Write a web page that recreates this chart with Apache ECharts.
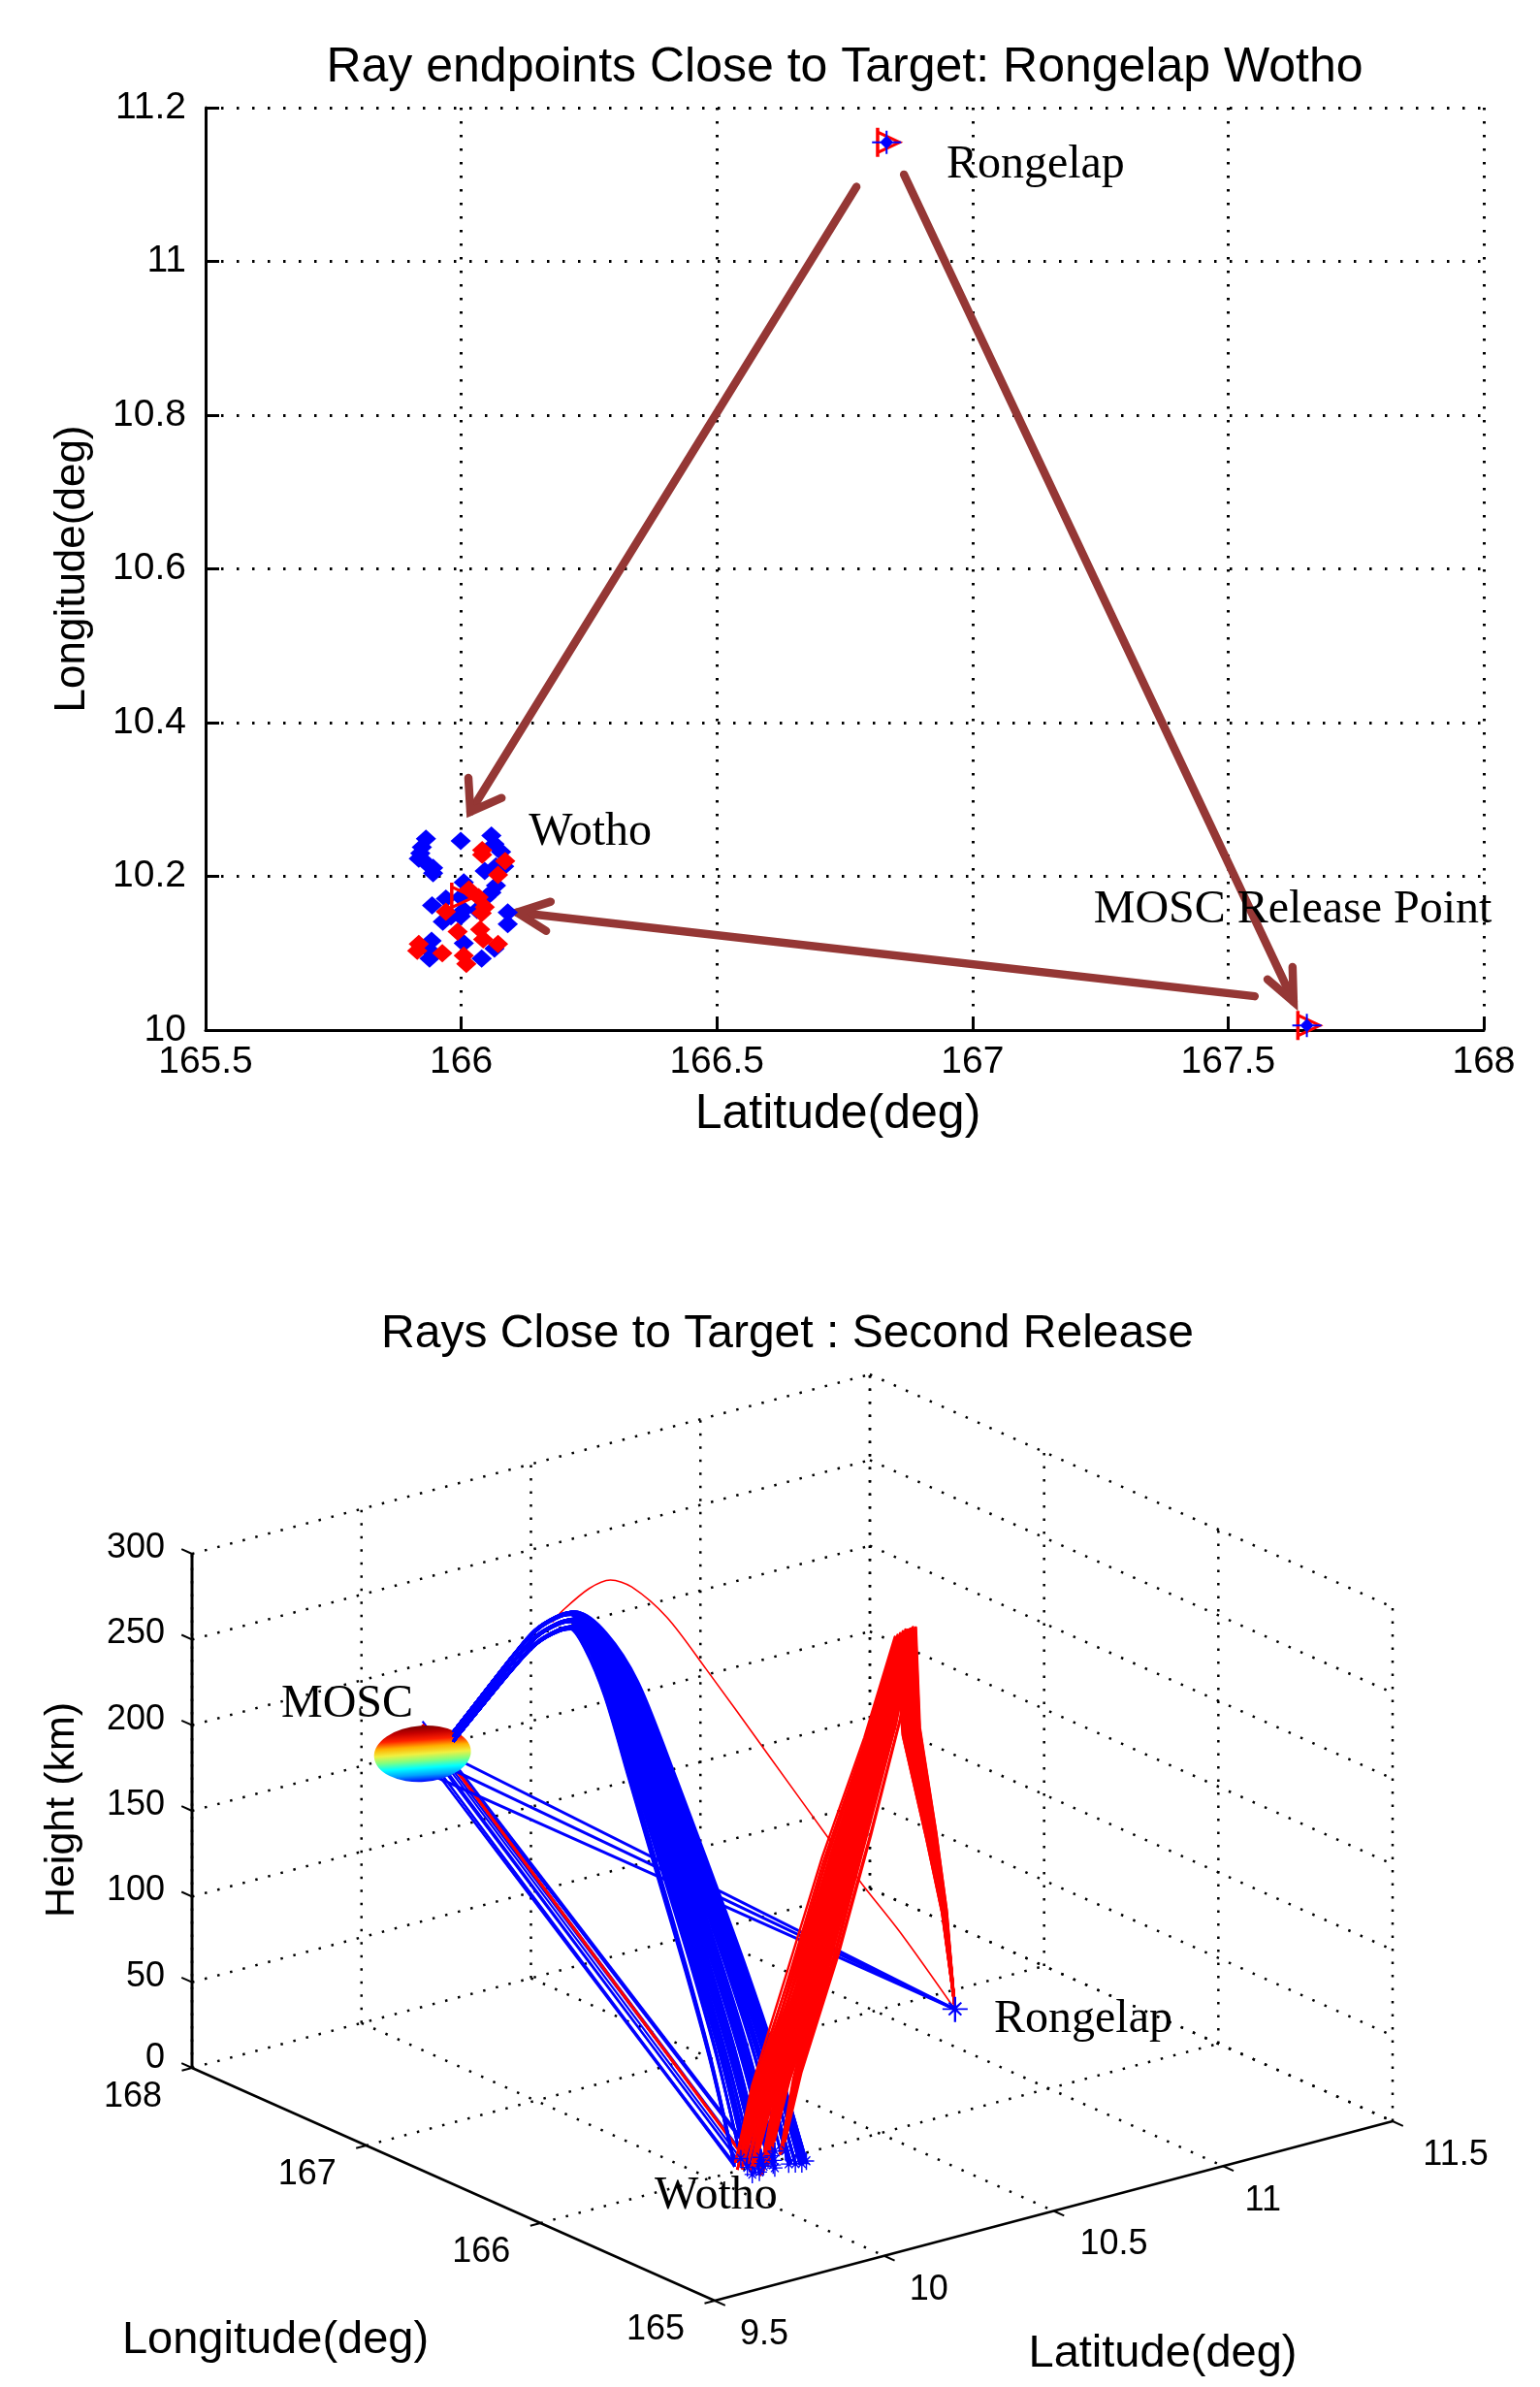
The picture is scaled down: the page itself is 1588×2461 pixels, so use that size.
<!DOCTYPE html>
<html><head><meta charset="utf-8">
<style>html,body{margin:0;padding:0;background:#fff}#c{width:1588px;height:2461px}</style>
<script src="https://cdn.jsdelivr.net/npm/echarts@6/dist/echarts.min.js"></script>
</head><body><div id="c"></div>
<script>
// ---------- top panel values (x deg, y deg) ----------
const blueEndpoints = [[165.931,10.249],[165.923,10.238],[165.920,10.230],[165.917,10.223],[165.932,10.217],[165.945,10.211],[165.945,10.204],[165.999,10.246],[166.059,10.253],[166.065,10.242],[166.078,10.232],[166.068,10.213],[166.046,10.207],[166.084,10.213],[166.005,10.192],[165.999,10.173],[165.970,10.171],[166.068,10.188],[166.059,10.179],[166.049,10.173],[165.943,10.162],[166.031,10.156],[166.005,10.156],[166.091,10.153],[166.091,10.138],[165.999,10.148],[165.980,10.148],[165.964,10.141],[165.942,10.116],[165.939,10.103],[166.005,10.113],[166.065,10.106],[165.938,10.093],[166.040,10.093]];
const redEndpoints = [[166.041,10.234],[166.041,10.228],[166.086,10.220],[166.072,10.202],[166.015,10.183],[166.034,10.173],[166.046,10.160],[165.970,10.154],[166.040,10.152],[165.993,10.128],[166.037,10.131],[166.043,10.118],[166.072,10.112],[165.917,10.112],[165.914,10.103],[165.963,10.100],[166.005,10.097],[166.010,10.086]];
const targets = [[166.832,11.155],[167.654,10.006],[165.999,10.173]];
const arrows = [
  {shaft:[[166.773,11.097],[166.018,10.284]], head:[[166.079,10.302],[166.018,10.284],[166.014,10.328]]},
  {shaft:[[166.866,11.113],[167.628,10.037]], head:[[167.626,10.082],[167.628,10.037],[167.577,10.066]]},
  {shaft:[[167.552,10.044],[166.109,10.153]], head:[[166.175,10.167],[166.109,10.153],[166.166,10.129]]}
];
const topLabels = [['Rongelap',166.949,11.125],['Wotho',166.132,10.257],['MOSC Release Point',167.237,10.156]];

// ---------- bottom panel values ----------
const lonTicks = [165,166,167,168];
const latTicks = [9.5,10,10.5,11,11.5];
const heightTicks = [0,50,100,150,200,250,300];
const moscPoint = [167.65,10,173];
const rongelapPoint = [166.84,11.155];
const wothoCentre = [166,10.17];
// ground fraction from MOSC -> Wotho, height km, and how far each ray has fanned out (big blue arc)
const blueArcFraction = [0.089,0.187,0.263,0.328,0.391,0.437,0.5,0.572,0.655,0.75,0.84,0.923,1];
const blueArcHeight   = [188.8,220,244,262.7,274.5,279.6,271.7,248.8,205.6,154,104.7,55,0];
const blueArcFan      = [0,0.02,0.05,0.1,0.15,0.3,0.6,0.8,0.9,0.95,0.97,0.98,1];
const blueArcVariants = [0.985,1,1.015];
// ground fraction from MOSC -> Rongelap, height km (thin red arc)
const redArcFraction = [0.244,0.264,0.313,0.353,0.393,0.459,0.532,0.647,0.769,0.825,0.898,1];
const redArcHeight   = [244,250.5,262,266,261,241.7,210,158,102.5,77.5,47,0];
// ground fraction from Rongelap -> Wotho point, height km (red band)
const redBandFraction = [0,0.055,0.122,0.224,0.254,0.373,0.555,0.726,0.91,1];
const redBandHeight   = [0,62,112,181.6,242,195.6,143,89.9,38,0];
const redBandSpread   = [0,0.1,0.2,0.3,0.4,0.8,1,0.8,0.3,0];
const redBandShifts   = [-0.07,-0.04,-0.01,0.02,0.05];
// straight rays: launch height km, lon, lat of landing point
const directBlue = [[173,166.076,10.105],[173,166.065,10.106],[176,166.052,10.1],[176,166.04,10.093],[180,166.059,10.12],[182,166.03,10.11],[185,166.005,10.113],[187,166.02,10.13],[190,166.0,10.15],[190,166.091,10.153],[190,166.031,10.156],[192,166.06,10.17]];
const directRed  = [[190,165.99,10.12],[190,166.01,10.125]];
const bundleHeights = [180,172,163];
const jetStops = ['#7f0000','#c40000','#ff2000','#ffb000','#f0f040','#80ff80','#00ffff','#00a0ff','#0000ff'];
const bottomLabels = [['MOSC',290,1757],['Rongelap',1025,2082],['Wotho',675,2264]];

// projection of (lon,lat,km) onto the hidden plane axes of the lower grid
function project(lon,lat,h){
  const u=(lon-165)/3, v=(lat-9.5)/2, w=h/300;
  return [737-539*u+699*v, 2372-240*u-185*v-530*w];
}

const BLUE='#0000ff', RED='#ff0000', BROWN='#953735';
const series=[];
const T={xAxisIndex:0,yAxisIndex:0}, B={xAxisIndex:1,yAxisIndex:1};

function line3(points,color,width,extra){
  extra=extra||{};
  series.push(Object.assign({type:'line',...B,data:points,symbol:'none',clip:false,silent:true,z:extra.z||2,
    lineStyle:{color,width,cap:'butt',join:'round',...(extra.ls||{})}},extra.smooth?{smooth:extra.smooth}:{}));
}
const DOT={ls:{type:[2.5,11]},z:1};

// walls and floor of the 3-D box
heightTicks.forEach(h=>{
  line3([project(168,9.5,h),project(168,11.5,h)],'#000',2.5,DOT);
  line3([project(168,11.5,h),project(165,11.5,h)],'#000',2.5,DOT);
});
latTicks.forEach(l=>{
  line3([project(168,l,0),project(168,l,300)],'#000',2.5,DOT);
  if(l>9.5) line3([project(168,l,0),project(165,l,0)],'#000',2.5,DOT);
});
lonTicks.forEach(l=>{
  line3([project(l,11.5,0),project(l,11.5,300)],'#000',2.5,DOT);
  if(l<168&&l>165) line3([project(l,9.5,0),project(l,11.5,0)],'#000',2.5,DOT);
});

// solid axes + ticks
line3([project(168,9.5,0),project(168,9.5,300)],'#000',3);
line3([project(168,9.5,0),project(165,9.5,0)],'#000',2.5);
line3([project(165,9.5,0),project(165,11.5,0)],'#000',2.5);
heightTicks.forEach(h=>line3([project(168,9.5,h),project(168.06,9.5,h)],'#000',2));
lonTicks.forEach(l=>line3([project(l,9.5,0),project(l,9.47,0)],'#000',2));
latTicks.forEach(l=>line3([project(165,l,0),project(164.94,l,0)],'#000',2));

// rays
function arc(p0,p1,frac,hts){ return frac.map((t,i)=>project(p0[0]+(p1[0]-p0[0])*t,p0[1]+(p1[1]-p0[1])*t,hts[i])); }
function fanArc(e,k){
  return blueArcFraction.map((t,i)=>{
    const w=blueArcFan[i];
    const tx=wothoCentre[0]+(e[0]-wothoCentre[0])*w, ty=wothoCentre[1]+(e[1]-wothoCentre[1])*w;
    return project(moscPoint[0]+(tx-moscPoint[0])*t,moscPoint[1]+(ty-moscPoint[1])*t,blueArcHeight[i]*k);
  });
}
line3(arc(moscPoint,rongelapPoint,redArcFraction,redArcHeight),RED,1.6,{smooth:0.3,z:2});
directBlue.forEach(r=>line3([project(moscPoint[0],moscPoint[1],r[0]),project(r[1],r[2],0)],BLUE,2.2,{z:2}));
directRed.forEach(r=>line3([project(moscPoint[0],moscPoint[1],r[0]),project(r[1],r[2],0)],RED,2.8,{z:3}));
bundleHeights.forEach(h=>line3([project(moscPoint[0],moscPoint[1],h),project(rongelapPoint[0],rongelapPoint[1],0)],BLUE,3,{z:3}));

// release ball
series.push({type:'scatter',...B,z:4,data:[project(moscPoint[0],moscPoint[1],moscPoint[2])],symbol:'circle',symbolSize:[100,58],symbolRotate:4,silent:true,
  itemStyle:{opacity:1,color:{type:'linear',x:0,y:0,x2:0,y2:1,colorStops:jetStops.map((c,i)=>({offset:i/(jetStops.length-1),color:c}))}}});

blueArcVariants.forEach(k=>blueEndpoints.forEach(e=>line3(fanArc(e,k),BLUE,2.8,{smooth:0.3,z:5})));
redBandShifts.forEach(s=>redEndpoints.forEach(e=>line3(arc(rongelapPoint,[e[0],e[1]],redBandFraction.map((t,i)=>t+s*redBandSpread[i]),redBandHeight),RED,2.4,{z:6})));

const starSmall='path://M0 9H18V10.5H0Z M8.2 0H9.8V20H8.2Z M5 4L9 8L13 4L14 5L10 9.5L14 14L13 15L9 11L5 15L4 14L8 9.5L4 5Z';
series.push({type:'scatter',...B,z:7,data:blueEndpoints.filter((e,i)=>i%2==0).map(e=>project(e[0],e[1],0)),symbol:starSmall,symbolSize:[16,18],silent:true,itemStyle:{color:BLUE,opacity:1}});
series.push({type:'scatter',...B,z:7,data:[project(rongelapPoint[0],rongelapPoint[1],0)],symbol:starSmall,symbolSize:[26,26],silent:true,itemStyle:{color:BLUE,opacity:1}});

// text anchored on the axes
function textSeries(axis,items,font){
  series.push({type:'scatter',...axis,symbolSize:1,silent:true,itemStyle:{color:'transparent',opacity:1},z:8,
    data:items.map(it=>({value:it.p,label:{show:true,formatter:it.t,position:'inside',offset:it.o||[0,0],align:it.a||'center',verticalAlign:'middle',
      color:'#000',opacity:1,fontFamily:font.family,fontSize:font.size,rotate:it.r||0}}))});
}
const SANS={family:'"Liberation Sans",Arial,sans-serif',size:36};
const latOff={9.5:[51,35],10:[46,35],10.5:[62,35],11:[41,36],11.5:[65,35]};
textSeries(B,heightTicks.map(h=>({p:project(168,9.5,h),t:String(h),o:[-28,h==0?-10:-6],a:'right'})),SANS);
textSeries(B,lonTicks.map(l=>({p:project(l,9.5,0),t:String(l),o:[-61,30]})),SANS);
textSeries(B,latTicks.map(l=>({p:project(165,l,0),t:String(l),o:latOff[l]})),SANS);
textSeries(B,[{p:[284,2413],t:'Longitude(deg)'},{p:[1199,2427],t:'Latitude(deg)'}],{family:SANS.family,size:47});
textSeries(B,[{p:[64,1866],t:'Height (km)',r:90}],{family:SANS.family,size:43});
textSeries(B,bottomLabels.map(l=>({p:[l[1],l[2]],t:l[0],a:'left'})),{family:'"Liberation Serif",serif',size:48});

// ---------- top panel marks ----------
series.push({type:'scatter',...T,data:blueEndpoints,symbol:'diamond',symbolSize:[21,19],silent:true,z:3,itemStyle:{color:BLUE,opacity:1}});
series.push({type:'scatter',...T,data:redEndpoints,symbol:'diamond',symbolSize:[21,19],silent:true,z:3,itemStyle:{color:RED,opacity:1}});
series.push({type:'scatter',...T,data:targets,symbol:'path://M0 0V30H3.500V26.500L28 15L3.500 3.500V0Z M3.500 7L21 15L3.500 23Z',symbolSize:[28,30],symbolOffset:[3,0],silent:true,itemStyle:{color:RED,opacity:1},z:4});
series.push({type:'scatter',...T,data:targets.slice(0,2),symbol:'path://M0 11H30V13H0Z M14 0H16V24H14Z M15 5L22 12L15 19L8 12Z',symbolSize:[30,24],silent:true,itemStyle:{color:BLUE,opacity:1},z:5});
arrows.forEach(a=>{
  [a.shaft,a.head].forEach(d=>series.push({type:'line',...T,data:d,symbol:'none',clip:false,silent:true,z:3,
    lineStyle:{color:BROWN,width:8.5,cap:'round',join:'miter'}}));
});
textSeries(T,topLabels.map(l=>({p:[l[1],l[2]],t:l[0],a:'left'})),{family:'"Liberation Serif",serif',size:48});

const tickFont={color:'#000',fontFamily:'"Liberation Sans",Arial,sans-serif',fontSize:39};
const option={
  animation:false,backgroundColor:'#fff',
  title:[
    {text:'Ray endpoints Close to Target: Rongelap Wotho',left:866,top:40,textAlign:'center',textStyle:{fontFamily:tickFont.fontFamily,fontSize:50,fontWeight:'normal',color:'#000'}},
    {text:'Rays Close to Target : Second Release',left:807,top:1347,textAlign:'center',textStyle:{fontFamily:tickFont.fontFamily,fontSize:48,fontWeight:'normal',color:'#000'}}
  ],
  grid:[
    {left:212,top:111,width:1318,height:951,containLabel:false},
    {left:0,top:1400,width:1588,height:1061}
  ],
  xAxis:[
    {gridIndex:0,type:'value',min:165.5,max:168,interval:0.5,name:'Latitude(deg)',nameLocation:'middle',nameGap:62,
      nameTextStyle:{color:'#000',fontFamily:tickFont.fontFamily,fontSize:50,padding:[0,14,0,0]},
      axisLine:{onZero:false,lineStyle:{color:'#000',width:3}},axisTick:{inside:true,length:14,lineStyle:{color:'#000',width:3}},
      axisLabel:{...tickFont,margin:14,showMinLabel:true,showMaxLabel:true},splitLine:{show:true,lineStyle:{color:'#000',width:3,type:[2.5,11.5]}}},
    {gridIndex:1,type:'value',min:0,max:1588,show:false}
  ],
  yAxis:[
    {gridIndex:0,type:'value',min:10,max:11.2,interval:0.2,name:'Longitude(deg)',nameLocation:'middle',nameGap:115,
      nameTextStyle:{color:'#000',fontFamily:tickFont.fontFamily,fontSize:44},
      axisLine:{onZero:false,lineStyle:{color:'#000',width:3}},axisTick:{inside:true,length:14,lineStyle:{color:'#000',width:3}},
      axisLabel:{...tickFont,margin:20,showMinLabel:true,showMaxLabel:true},splitLine:{show:true,lineStyle:{color:'#000',width:3,type:[2.5,13.5]}}},
    {gridIndex:1,type:'value',min:1400,max:2461,inverse:true,show:false}
  ],
  series
};
echarts.init(document.getElementById('c'),null,{renderer:'canvas'}).setOption(option);
</script></body></html>
